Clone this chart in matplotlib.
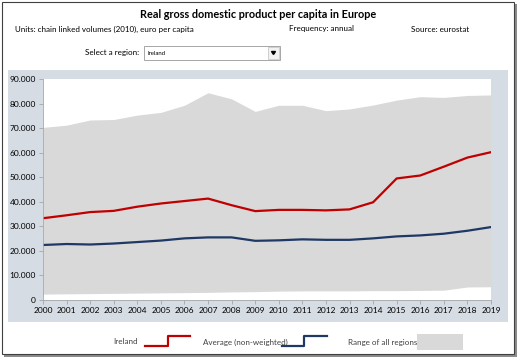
import matplotlib.pyplot as plt
from matplotlib.patches import Rectangle
from matplotlib.ticker import FuncFormatter

plt.rcParams['font.family'] = ['Lato', 'DejaVu Sans']

years = list(range(2000, 2020))
ireland = [33300, 34500, 35800, 36300, 38000, 39300, 40300, 41300, 38600, 36200,
           36700, 36700, 36500, 36900, 39800, 49500, 50700, 54300, 58000, 60200]
average = [22400, 22800, 22600, 23000, 23600, 24200, 25100, 25500, 25500, 24100,
           24300, 24700, 24500, 24500, 25100, 25900, 26300, 27000, 28200, 29700]
range_high = [70300, 71200, 73300, 73500, 75300, 76400, 79300, 84400, 81900, 76800,
              79300, 79300, 77100, 77800, 79400, 81400, 82800, 82500, 83300, 83500]
range_low = [2400, 2500, 2600, 2700, 2800, 2900, 3000, 3100, 3300, 3400,
             3600, 3700, 3700, 3700, 3800, 3800, 3900, 4000, 5300, 5400]

W, H = 520, 361
red = '#C00000'
navy = '#1F3864'
band = '#D9D9D9'
panel = '#D6DCE4'

fig = plt.figure(figsize=(W / 100, H / 100), dpi=100)

# background canvas in pixel coordinates
bg = fig.add_axes([0, 0, 1, 1])
bg.set_xlim(0, W)
bg.set_ylim(H, 0)
bg.axis('off')

# frame with shadow
bg.add_patch(Rectangle((4, 4), 513, 353, facecolor='#8C8C8C', edgecolor='none'))
bg.add_patch(Rectangle((1.5, 1.5), 512, 352, facecolor='white', edgecolor='#404040', linewidth=0.8))
# chart panel
bg.add_patch(Rectangle((8, 70), 500, 252, facecolor=panel, edgecolor='none'))

bg.text(258, 15, 'Real gross domestic product per capita in Europe', ha='center', va='center',
        fontsize=7.8, fontweight='bold', color='black')
bg.text(15, 29, 'Units: chain linked volumes (2010), euro per capita', ha='left', va='center',
        fontsize=5.8, color='black')
bg.text(289, 29, 'Frequency: annual', ha='left', va='center', fontsize=5.8, color='black')
bg.text(411, 29, 'Source: eurostat', ha='left', va='center', fontsize=5.8, color='black')

# dropdown
bg.text(139, 53, 'Select a region:', ha='right', va='center', fontsize=5.8, color='black')
bg.add_patch(Rectangle((144, 46), 136, 14, facecolor='white', edgecolor='#A6A6A6', linewidth=0.7))
bg.add_patch(Rectangle((268, 47), 11, 12, facecolor='#F2F2F2', edgecolor='#BFBFBF', linewidth=0.5))
bg.fill([271.5, 275.5, 273.5], [51.5, 51.5, 54.5], color='black')
bg.text(148, 53.5, 'Ireland', ha='left', va='center', fontsize=4.3, color='black')

# legend
bg.text(138, 342, 'Ireland', ha='right', va='center', fontsize=5.8, color='#404040')
bg.plot([145, 168, 168, 190], [346, 346, 336, 336], color=red, linewidth=1.6)
bg.text(203, 342, 'Average (non-weighted)', ha='left', va='center', fontsize=5.8, color='#404040')
bg.plot([282, 304, 304, 327], [346, 346, 336, 336], color=navy, linewidth=1.6)
bg.text(348, 342, 'Range of all regions', ha='left', va='center', fontsize=5.8, color='#404040')
bg.add_patch(Rectangle((417, 334), 46, 16, facecolor=band, edgecolor='none'))

# plot area
left, right, top, bottom = 43, 491, 79, 300
ax = fig.add_axes([left / W, (H - bottom) / H, (right - left) / W, (bottom - top) / H])
ax.set_facecolor('white')
ax.fill_between(years, range_low, range_high, color=band, linewidth=0)
ax.plot(years, average, color=navy, linewidth=1.6)
ax.plot(years, ireland, color=red, linewidth=1.6)

ax.set_xlim(2000, 2019)
ax.set_ylim(0, 90000)
ax.set_xticks(years)
ax.set_yticks(range(0, 90001, 10000))
ax.yaxis.set_major_formatter(FuncFormatter(lambda v, p: f'{int(v):,}'.replace(',', '.')))
ax.tick_params(axis='both', labelsize=6, colors='#A6A6A6', labelcolor='black', length=3, width=0.6)
ax.tick_params(axis='y', pad=2)
ax.tick_params(axis='x', pad=2)
for side in ['top', 'right']:
    ax.spines[side].set_visible(False)
for side in ['left', 'bottom']:
    ax.spines[side].set_color('#A6A6A6')
    ax.spines[side].set_linewidth(0.6)

fig.savefig('out.png', dpi=100)
